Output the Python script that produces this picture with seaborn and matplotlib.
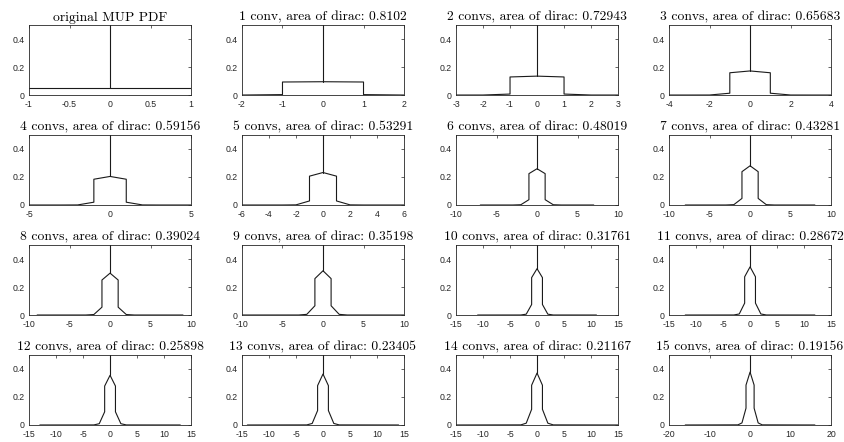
import matplotlib
matplotlib.use("Agg")
import matplotlib.pyplot as plt
import seaborn as sns
import pandas as pd

# Titles of the 16 panels
titles = [
    "original MUP PDF",
    "1 conv, area of dirac: 0.8102",
    "2 convs, area of dirac: 0.72943",
    "3 convs, area of dirac: 0.65683",
    "4 convs, area of dirac: 0.59156",
    "5 convs, area of dirac: 0.53291",
    "6 convs, area of dirac: 0.48019",
    "7 convs, area of dirac: 0.43281",
    "8 convs, area of dirac: 0.39024",
    "9 convs, area of dirac: 0.35198",
    "10 convs, area of dirac: 0.31761",
    "11 convs, area of dirac: 0.28672",
    "12 convs, area of dirac: 0.25898",
    "13 convs, area of dirac: 0.23405",
    "14 convs, area of dirac: 0.21167",
    "15 convs, area of dirac: 0.19156",
]

# half-width of the support of each PDF
support = [1, 2, 3, 4, 5, 6, 7, 8, 9, 10, 11, 12, 13, 14, 15, 16]
# x-axis half range and tick lists
xlim = [1, 2, 3, 4, 5, 6, 10, 10, 10, 10, 15, 15, 15, 15, 15, 20]
xticks = [
    [-1, -0.5, 0, 0.5, 1],
    [-2, -1, 0, 1, 2],
    [-3, -2, -1, 0, 1, 2, 3],
    [-4, -2, 0, 2, 4],
    [-5, 0, 5],
    [-6, -4, -2, 0, 2, 4, 6],
    [-10, -5, 0, 5, 10],
    [-10, -5, 0, 5, 10],
    [-10, -5, 0, 5, 10],
    [-10, -5, 0, 5, 10],
    [-15, -10, -5, 0, 5, 10, 15],
    [-15, -10, -5, 0, 5, 10, 15],
    [-15, -10, -5, 0, 5, 10, 15],
    [-15, -10, -5, 0, 5, 10, 15],
    [-15, -10, -5, 0, 5, 10, 15],
    [-20, -10, 0, 10, 20],
]

# continuous part of the PDF: value at 0, just inside |x|=1, just outside |x|=1, at |x|=2, at |x|=3
pdf_at_0 = [0.050, 0.095, 0.135, 0.172, 0.204, 0.232, 0.259, 0.280, 0.299, 0.316,
            0.331, 0.344, 0.355, 0.364, 0.371, 0.378]
pdf_in_1 = [0.050, 0.093, 0.129, 0.159, 0.184, 0.206, 0.224, 0.238, 0.250, 0.260,
            0.267, 0.273, 0.278, 0.281, 0.284, 0.285]
pdf_out_1 = [0.0, 0.003, 0.007, 0.013, 0.020, 0.029, 0.038, 0.047, 0.056, 0.066,
             0.075, 0.085, 0.094, 0.103, 0.112, 0.120]
pdf_at_2 = [0.0, 0.0, 0.0001, 0.0002, 0.0005, 0.001, 0.0019, 0.0025, 0.0035, 0.0047,
            0.006, 0.0075, 0.0092, 0.011, 0.0129, 0.0149]
pdf_at_3 = [0.0, 0.0, 0.0, 0.0, 0.0, 0.0, 0.0, 0.0001, 0.0001, 0.00015,
            0.0002, 0.0003, 0.0004, 0.0006, 0.0007, 0.0009]

Y_TOP = 0.5
LINE = "#1a1a1a"
FRAME = "#262626"

sns.set_theme(style="white")
plt.rcParams["font.family"] = ["Liberation Sans", "DejaVu Sans"]

fig = plt.figure(figsize=(8.44, 4.42), dpi=100)
lefts = [0.0344, 0.2867, 0.5403, 0.7927]
bottoms = [0.785, 0.5362, 0.2873, 0.0385]
width, height = 0.192, 0.1584


def curve_frame(i):
    L = support[i]
    if i == 0:
        xs = [-1, 0, 1]
        ys = [pdf_at_0[0], pdf_at_0[0], pdf_at_0[0]]
    else:
        right_x = [1, 1, 2, 3]
        right_y = [pdf_in_1[i], pdf_out_1[i], pdf_at_2[i], pdf_at_3[i]]
        keep = [(x, y) for x, y in zip(right_x, right_y) if x <= L]
        if keep[-1][0] < L:
            keep.append((L, 0.0))
        rx = [p[0] for p in keep]
        ry = [p[1] for p in keep]
        xs = [-x for x in rx[::-1]] + [0] + rx
        ys = ry[::-1] + [pdf_at_0[i]] + ry
    return pd.DataFrame({"x": xs, "y": ys})


for i in range(16):
    r, c = divmod(i, 4)
    ax = fig.add_axes([lefts[c], bottoms[r], width, height])
    df = curve_frame(i)
    sns.lineplot(data=df, x="x", y="y", sort=False, estimator=None,
                 color=LINE, linewidth=0.8, ax=ax)
    # dirac impulse at the origin
    spike = pd.DataFrame({"x": [0, 0], "y": [pdf_at_0[i], Y_TOP * 2]})
    sns.lineplot(data=spike, x="x", y="y", sort=False, estimator=None,
                 color=LINE, linewidth=0.8, ax=ax)

    ax.set_xlim(-xlim[i], xlim[i])
    ax.set_ylim(0, Y_TOP)
    ax.set_xticks(xticks[i])
    ax.set_xticklabels([("%g" % t) for t in xticks[i]])
    ax.set_yticks([0, 0.2, 0.4])
    ax.set_yticklabels(["0", "0.2", "0.4"])
    ax.set_xlabel("")
    ax.set_ylabel("")
    ax.tick_params(direction="in", length=2, width=0.5, colors=FRAME,
                   labelsize=6.3, top=True, right=True,
                   labeltop=False, labelright=False)
    ax.tick_params(axis="x", pad=3.5)
    ax.tick_params(axis="y", pad=3)
    for s in ax.spines.values():
        s.set_color(FRAME)
        s.set_linewidth(0.6)
    ax.set_title(titles[i], family="cmr10", fontsize=9.8, color="black", pad=3)

fig.savefig("out.png", dpi=100, facecolor="white")
